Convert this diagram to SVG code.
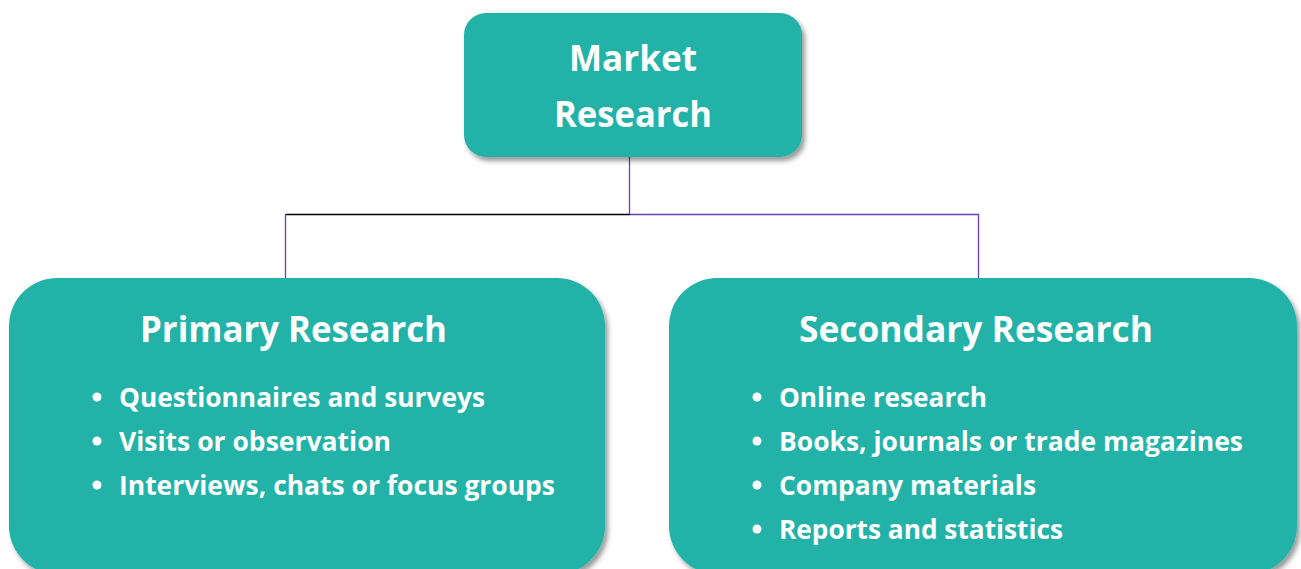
<svg xmlns="http://www.w3.org/2000/svg" width="1301" height="569" viewBox="0 0 1301 569">
  <defs>
    <filter id="shadow" x="-10%" y="-10%" width="120%" height="130%">
      <feDropShadow dx="3" dy="4" stdDeviation="2.5" flood-color="#000" flood-opacity="0.4"/>
    </filter>
  </defs>
  <style>
    .box { fill: #22B2A7; filter: url(#shadow); }
    .title { font-family: "Open Sans", "Liberation Sans", sans-serif; font-weight: 700; fill: #fff; font-size: 35px; text-anchor: middle; }
    .item { font-family: "Open Sans", "Liberation Sans", sans-serif; font-weight: 700; fill: #fff; font-size: 26px; }
    .dot { fill: #fff; }
    .link { fill: none; stroke: #6A3FB0; stroke-width: 1.3; }
    .link-dark { fill: none; stroke: #000; stroke-width: 1.3; }
  </style>

  <!-- connectors -->
  <g id="connectors">
    <path class="link" d="M629.5 157 V214.5 H978.5 V278"/>
    <path class="link-dark" d="M629.5 214.5 H285.5"/>
    <path class="link" d="M285.5 214.5 V278"/>
  </g>

  <!-- root -->
  <g id="market-research">
    <rect class="box" x="464" y="13" width="338" height="144" rx="22"/>
    <text class="title" x="633" y="71" textLength="128" lengthAdjust="spacingAndGlyphs">Market</text>
    <text class="title" x="633" y="127" textLength="158" lengthAdjust="spacingAndGlyphs">Research</text>
  </g>

  <!-- primary -->
  <g id="primary-research">
    <rect class="box" x="9" y="278" width="596" height="296" rx="48"/>
    <text class="title" x="293.5" y="342" textLength="307" lengthAdjust="spacingAndGlyphs">Primary Research</text>
    <circle class="dot" cx="97" cy="397" r="4.5"/>
    <text class="item" x="119" y="407" textLength="366" lengthAdjust="spacingAndGlyphs">Questionnaires and surveys</text>
    <circle class="dot" cx="97" cy="441" r="4.5"/>
    <text class="item" x="119" y="451" textLength="272" lengthAdjust="spacingAndGlyphs">Visits or observation</text>
    <circle class="dot" cx="97" cy="485" r="4.5"/>
    <text class="item" x="119" y="495" textLength="436" lengthAdjust="spacingAndGlyphs">Interviews, chats or focus groups</text>
  </g>

  <!-- secondary -->
  <g id="secondary-research">
    <rect class="box" x="669" y="278" width="628" height="296" rx="48"/>
    <text class="title" x="976" y="342" textLength="354" lengthAdjust="spacingAndGlyphs">Secondary Research</text>
    <circle class="dot" cx="757" cy="397" r="4.5"/>
    <text class="item" x="779" y="407" textLength="208" lengthAdjust="spacingAndGlyphs">Online research</text>
    <circle class="dot" cx="757" cy="441" r="4.5"/>
    <text class="item" x="779" y="451" textLength="464" lengthAdjust="spacingAndGlyphs">Books, journals or trade magazines</text>
    <circle class="dot" cx="757" cy="485" r="4.5"/>
    <text class="item" x="779" y="495" textLength="257" lengthAdjust="spacingAndGlyphs">Company materials</text>
    <circle class="dot" cx="757" cy="529" r="4.5"/>
    <text class="item" x="779" y="539" textLength="284" lengthAdjust="spacingAndGlyphs">Reports and statistics</text>
  </g>
</svg>
